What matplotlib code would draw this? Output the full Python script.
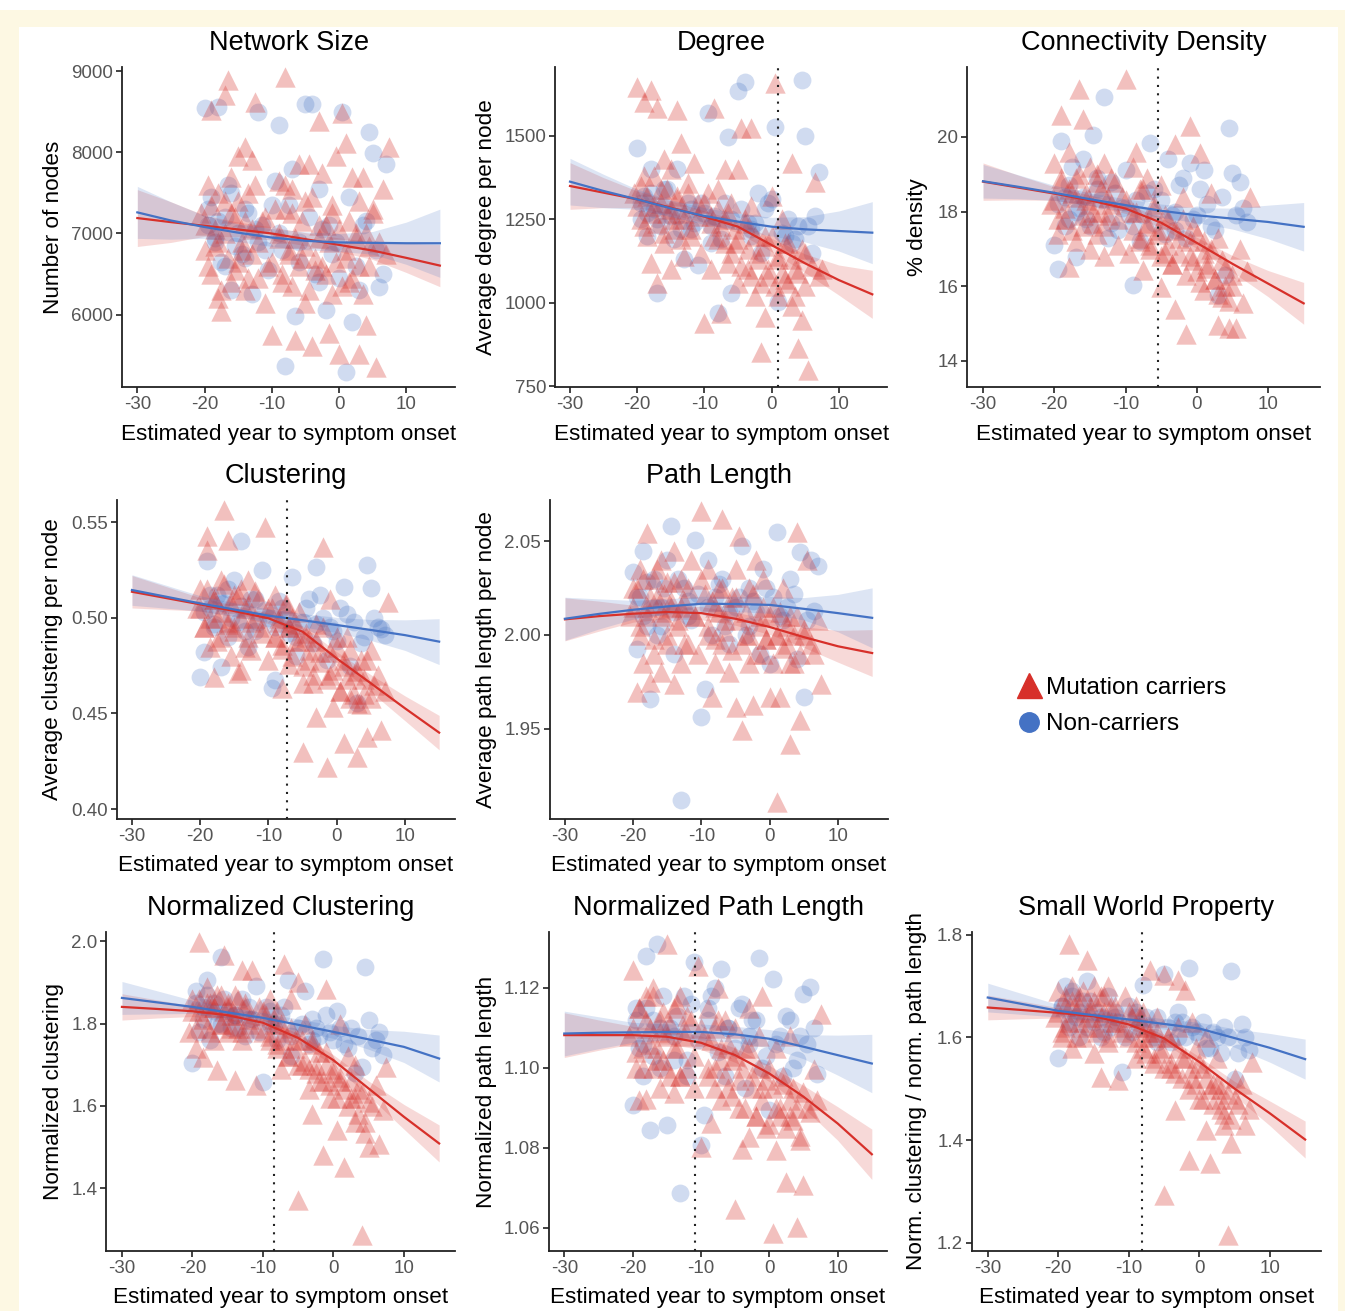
import numpy as np
import matplotlib
matplotlib.use("Agg")
import matplotlib.pyplot as plt
from matplotlib.patches import Rectangle
from matplotlib.lines import Line2D

plt.rcParams['font.family'] = ['Liberation Sans', 'DejaVu Sans']

RED = '#D7302A'
BLUE = '#4472C4'
W, H = 1345, 1311

# estimated years to symptom onset (same people in every panel)
x_car = [-20.5, -20.0, -19.5, -19.0, -19.0, -18.5, -18.0, -18.0, -17.5, -17.0,
         -17.0, -16.5, -16.0, -16.0, -15.5, -15.0, -15.0, -14.5, -14.0, -14.0,
         -13.5, -13.0, -13.0, -12.5, -12.0, -11.5, -11.0, -10.5, -10.0, -9.5,
         -9.0, -9.0, -8.5, -8.0, -8.0, -7.5, -7.0, -7.0, -6.5, -6.0,
         -5.5, -5.0, -5.0, -4.5, -4.0, -3.5, -3.0, -3.0, -2.5, -2.0,
         -1.5, -1.0, -1.0, -0.5, 0.0, 0.5, 1.0, 1.0, 1.5, 2.0,
         2.5, 3.0, 3.0, 3.5, 4.0, 4.5, 5.0, 5.5, 6.5, 7.5,
         -20.0, -19.5, -19.0, -18.5, -18.0, -17.5, -17.0, -16.5, -16.0, -15.5,
         -15.0, -14.5, -14.0, -13.5, -13.0, -12.5, -12.0, -11.0, -10.0, -9.0,
         -8.5, -8.0, -7.5, -7.0, -6.5, -6.0, -5.5, -5.0, -4.5, -4.0,
         -3.5, -3.0, -2.5, -2.0, -1.5, -1.0, -0.5, 0.0, 0.5, 1.0,
         1.5, 2.0, 2.5, 3.0, 3.5, 4.0, 4.5, 5.0, 6.0, 7.0]
x_non = [-20.0, -19.5, -19.0, -18.5, -18.0, -17.5, -17.0, -16.5, -16.0, -15.0,
         -14.5, -14.0, -13.0, -12.5, -12.0, -11.0, -10.0, -9.5, -9.0, -8.0,
         -7.0, -6.5, -6.0, -5.0, -4.0, -3.5, -3.0, -2.0, -1.5, -1.0,
         0.0, 0.5, 1.0, 2.0, 3.0, 4.0, 4.5, 5.0, 6.0, 7.0,
         -19.5, -18.5, -18.0, -17.0, -16.0, -15.5, -14.0, -13.5, -12.0, -11.5,
         -10.5, -9.0, -8.5, -7.5, -6.0, -4.5, -3.0, -2.5, -0.5, 1.5,
         2.5, 3.5, 5.5, 6.5]
fit_x = [-30, -25, -20, -15, -10, -5, 0, 5, 10, 15]

# ---- Network Size
size_car = [7250, 6800, 7600, 8520, 6500, 7050, 6900, 6200, 6050, 7400,
            8700, 8890, 6400, 7700, 7200, 6650, 7950, 6900, 8070, 6300,
            7500, 6750, 7900, 8620, 6450, 7150, 6150, 6600, 5750, 7300,
            6950, 7650, 6500, 8930, 7600, 6800, 7250, 6350, 5690, 7850,
            6700, 6150, 7400, 7850, 5620, 6550, 8380, 6950, 6600, 7100,
            5770, 6250, 7350, 7950, 5520, 8480, 8110, 6700, 6400, 7700,
            7000, 5520, 6600, 7700, 5870, 6850, 7250, 5360, 7550, 8070,
            7100, 6600, 7350, 6850, 7500, 6300, 7000, 6700, 7250, 6550,
            7400, 6800, 7150, 6450, 7050, 7600, 6900, 7200, 6650, 7000,
            6400, 7300, 6750, 7550, 6950, 6600, 7150, 6850, 6300, 7450,
            6700, 7100, 7750, 6500, 6900, 7250, 6650, 7050, 6350, 6800,
            7150, 6450, 6950, 7400, 6250, 7000, 6600, 7300, 6900, 6750]
size_non = [8540, 7100, 7450, 6900, 8560, 6650, 7200, 7600, 6300, 7000,
            6750, 7300, 6250, 7050, 8500, 6800, 7350, 7650, 8330, 5370,
            7800, 5990, 6900, 8600, 8600, 6500, 7550, 6060, 7100, 6750,
            6450, 8500, 5300, 5910, 6300, 7150, 8250, 7985, 6340, 7860,
            7300, 6950, 7150, 6600, 7500, 6850, 6700, 7250, 6900, 7100,
            6550, 7000, 6800, 7350, 6650, 7200, 6400, 7050, 6900, 7450,
            6600, 7100, 6800, 6500]
size_red = [7190, 7140, 7095, 7050, 7000, 6930, 6860, 6790, 6700, 6605]
size_red_ci = [350, 250, 130, 90, 80, 80, 85, 110, 180, 260]
size_blue = [7260, 7160, 7080, 7010, 6950, 6910, 6890, 6885, 6880, 6880]
size_blue_ci = [320, 230, 140, 110, 110, 110, 110, 140, 260, 420]

# ---- Degree
deg_car = [1330, 1646, 1250, 1603, 1380, 1200, 1638, 1120, 1290, 1583,
           1060, 1340, 1430, 1180, 1270, 1400, 1100, 1220, 1578, 1320,
           1480, 1250, 1140, 1360, 1200, 1420, 1300, 1150, 938, 1330,
           1260, 1100, 1583, 1340, 1190, 968, 1250, 1400, 1120, 1300,
           1180, 1060, 1400, 1523, 1240, 1100, 1523, 1290, 1020, 1150,
           853, 958, 1200, 1080, 1320, 1660, 1130, 1020, 1250, 1070,
           1180, 1420, 990, 1100, 863, 948, 1150, 798, 1363, 1100,
           1290, 1350, 1230, 1320, 1270, 1380, 1240, 1300, 1210, 1340,
           1280, 1250, 1310, 1190, 1270, 1330, 1220, 1260, 1300, 1240,
           1200, 1280, 1230, 1180, 1270, 1150, 1220, 1190, 1110, 1250,
           1160, 1080, 1200, 1130, 1060, 1170, 1100, 1200, 1050, 1140,
           1090, 1180, 1060, 1130, 1020, 1090, 1160, 1050, 1110, 1080]
deg_non = [1463, 1250, 1320, 1200, 1400, 1280, 1030, 1230, 1340, 1260,
           1190, 1400, 1130, 1300, 1220, 1113, 1270, 1568, 1180, 968,
           1300, 1496, 1028, 1636, 1663, 1240, 1200, 1330, 1150, 1280,
           1310, 1528, 1003, 1200, 1180, 1230, 1668, 1500, 1148, 1393,
           1300, 1270, 1330, 1250, 1290, 1340, 1260, 1220, 1280, 1240,
           1300, 1230, 1260, 1190, 1250, 1280, 1220, 1240, 1300, 1210,
           1250, 1190, 1230, 1260]
deg_red = [1350, 1330, 1310, 1285, 1258, 1228, 1173, 1118, 1068, 1025]
deg_red_ci = [70, 45, 25, 20, 18, 18, 20, 28, 45, 72]
deg_blue = [1363, 1335, 1310, 1283, 1260, 1243, 1228, 1220, 1215, 1210]
deg_blue_ci = [70, 50, 30, 25, 25, 25, 28, 38, 60, 93]

# ---- Connectivity Density
dens_car = [18.2, 19.3, 17.4, 20.58, 18.8, 17.8, 16.52, 19.6, 18.5, 17.2,
            18.9, 21.29, 17.6, 20.49, 18.3, 19.2, 17.0, 18.0, 19.0, 17.4,
            18.6, 16.8, 19.3, 17.9, 18.2, 18.8, 17.1, 18.4, 21.56, 16.9,
            18.0, 19.2, 19.6, 17.3, 18.6, 16.43, 17.6, 18.9, 17.1, 18.2,
            17.5, 15.98, 18.7, 16.9, 17.8, 16.6, 15.4, 19.8, 17.3, 18.4,
            14.73, 20.3, 16.8, 17.6, 16.4, 19.57, 17.2, 15.9, 16.6, 18.5,
            16.2, 14.96, 17.3, 15.7, 16.5, 14.87, 16.0, 14.87, 15.54, 18.39,
            18.3, 17.8, 18.9, 18.1, 18.6, 17.5, 18.4, 19.0, 17.9, 18.5,
            18.2, 17.7, 18.8, 18.0, 17.6, 18.4, 18.9, 17.8, 18.3, 17.5,
            18.0, 17.2, 18.6, 17.7, 17.0, 18.1, 17.4, 16.8, 17.9, 17.1,
            16.6, 17.5, 16.9, 17.8, 16.3, 17.2, 16.7, 17.4, 16.1, 16.9,
            16.5, 17.0, 16.2, 15.8, 16.7, 16.0, 15.6, 16.3, 17.0, 16.4]
dens_non = [17.1, 16.47, 19.9, 18.4, 17.8, 19.2, 16.79, 18.1, 19.4, 17.6,
            20.04, 18.6, 21.07, 17.3, 18.8, 17.5, 19.1, 17.9, 16.03, 17.2,
            18.5, 19.84, 17.7, 18.3, 19.4, 17.9, 17.5, 18.9, 17.3, 19.3,
            17.9, 18.6, 19.1, 17.6, 15.76, 16.3, 20.24, 19.02, 18.8, 17.72,
            18.2, 17.6, 18.7, 18.0, 18.4, 17.8, 18.9, 18.3, 17.7, 18.5,
            18.1, 17.6, 18.3, 17.9, 18.6, 17.4, 18.0, 18.7, 17.8, 18.2,
            17.5, 18.4, 17.9, 18.1]
dens_red = [18.80, 18.64, 18.48, 18.30, 18.08, 17.70, 17.16, 16.60, 16.07, 15.54]
dens_red_ci = [0.50, 0.33, 0.18, 0.14, 0.13, 0.13, 0.15, 0.22, 0.35, 0.56]
dens_blue = [18.81, 18.66, 18.50, 18.33, 18.17, 18.02, 17.90, 17.81, 17.72, 17.59]
dens_blue_ci = [0.45, 0.32, 0.20, 0.17, 0.17, 0.18, 0.20, 0.28, 0.45, 0.65]

# ---- Clustering
clus_car = [0.505, 0.515, 0.495, 0.5428, 0.5355, 0.485, 0.4692, 0.510, 0.500, 0.490,
            0.520, 0.5565, 0.5408, 0.498, 0.480, 0.512, 0.495, 0.471, 0.4727, 0.515,
            0.505, 0.490, 0.520, 0.483, 0.500, 0.510, 0.492, 0.5474, 0.478, 0.505,
            0.512, 0.490, 0.498, 0.4631, 0.484, 0.507, 0.495, 0.476, 0.500, 0.488,
            0.503, 0.4658, 0.430, 0.490, 0.478, 0.4658, 0.4483, 0.497, 0.482, 0.5373,
            0.4221, 0.470, 0.510, 0.4535, 0.485, 0.462, 0.475, 0.4344, 0.490, 0.458,
            0.470, 0.4553, 0.4274, 0.478, 0.460, 0.4378, 0.483, 0.465, 0.4413, 0.5085,
            0.505, 0.495, 0.515, 0.500, 0.510, 0.488, 0.503, 0.518, 0.497, 0.508,
            0.493, 0.512, 0.500, 0.485, 0.506, 0.498, 0.514, 0.495, 0.505, 0.490,
            0.500, 0.486, 0.508, 0.495, 0.480, 0.497, 0.488, 0.475, 0.492, 0.483,
            0.470, 0.488, 0.477, 0.495, 0.468, 0.482, 0.473, 0.490, 0.462, 0.478,
            0.468, 0.483, 0.460, 0.472, 0.455, 0.468, 0.478, 0.458, 0.470, 0.462]
clus_non = [0.4692, 0.4823, 0.530, 0.505, 0.495, 0.512, 0.4745, 0.508, 0.490, 0.520,
            0.498, 0.5404, 0.485, 0.510, 0.493, 0.5251, 0.500, 0.4631, 0.4675, 0.505,
            0.492, 0.5216, 0.480, 0.498, 0.510, 0.487, 0.5268, 0.500, 0.478, 0.495,
            0.488, 0.505, 0.5163, 0.475, 0.4553, 0.490, 0.5277, 0.5155, 0.4954, 0.491,
            0.503, 0.512, 0.497, 0.508, 0.515, 0.500, 0.506, 0.493, 0.510, 0.498,
            0.504, 0.495, 0.509, 0.500, 0.490, 0.505, 0.497, 0.512, 0.493, 0.502,
            0.498, 0.487, 0.500, 0.494]
clus_red = [0.5137, 0.5104, 0.5071, 0.5036, 0.4998, 0.4928, 0.4788, 0.4658, 0.4527, 0.4400]
clus_red_ci = [0.0085, 0.006, 0.0035, 0.003, 0.0028, 0.003, 0.0035, 0.0045, 0.0065, 0.009]
clus_blue = [0.5146, 0.5111, 0.5076, 0.5044, 0.5012, 0.4988, 0.4963, 0.4937, 0.4910, 0.4876]
clus_blue_ci = [0.008, 0.006, 0.004, 0.0035, 0.0035, 0.0035, 0.004, 0.0055, 0.008, 0.012]

# ---- Path Length
path_car = [2.010, 2.025, 1.9695, 2.000, 2.035, 1.985, 2.0543, 2.015, 1.975, 2.030,
            1.990, 2.020, 2.040, 1.980, 2.010, 2.028, 1.995, 2.015, 1.974, 2.045,
            2.005, 1.985, 2.030, 2.018, 1.995, 2.040, 2.010, 1.990, 2.0663, 2.022,
            2.035, 2.000, 1.9669, 2.015, 1.985, 2.025, 2.0619, 1.995, 2.008, 1.980,
            2.020, 1.9616, 2.035, 2.053, 1.9491, 2.000, 2.025, 1.985, 1.9624, 2.040,
            2.010, 1.990, 2.030, 1.998, 1.9669, 2.015, 1.9109, 2.000, 1.9669, 2.025,
            1.995, 1.942, 2.010, 1.985, 2.0548, 1.9544, 2.000, 2.040, 1.990, 1.974,
            2.015, 2.025, 2.005, 2.030, 2.010, 2.020, 1.998, 2.035, 2.012, 2.022,
            2.000, 2.018, 2.028, 2.008, 2.015, 1.995, 2.025, 2.010, 2.030, 2.005,
            2.018, 1.998, 2.012, 2.025, 2.002, 2.015, 1.992, 2.020, 2.008, 1.995,
            2.012, 2.000, 2.022, 1.990, 2.005, 2.015, 1.998, 2.010, 1.985, 2.000,
            2.012, 1.993, 2.005, 1.985, 2.000, 2.010, 1.990, 2.003, 1.995, 2.008]
path_non = [2.0335, 1.9926, 2.020, 2.045, 2.005, 1.966, 2.030, 2.000, 2.015, 2.040,
            2.0583, 1.990, 1.9118, 2.025, 2.010, 2.0504, 1.9562, 1.9713, 2.040, 2.020,
            2.030, 2.005, 1.995, 2.015, 2.0477, 2.000, 2.025, 2.012, 1.990, 2.035,
            1.9846, 2.020, 2.0548, 2.008, 2.030, 1.9873, 2.0441, 1.9669, 2.040, 2.037,
            2.020, 2.010, 2.028, 2.015, 2.005, 2.025, 2.012, 2.030, 2.018, 2.008,
            2.022, 2.015, 2.000, 2.027, 2.012, 2.020, 2.005, 2.018, 2.025, 2.010,
            2.015, 2.022, 2.008, 2.013]
path_red = [2.0083, 2.0100, 2.0113, 2.0122, 2.0116, 2.0086, 2.0042, 1.9988, 1.9939, 1.9903]
path_red_ci = [0.0115, 0.008, 0.0045, 0.0035, 0.0035, 0.0035, 0.004, 0.0055, 0.0085, 0.0125]
path_blue = [2.0086, 2.0112, 2.0134, 2.0152, 2.0166, 2.0165, 2.0160, 2.0139, 2.0116, 2.0091]
path_blue_ci = [0.0115, 0.008, 0.005, 0.004, 0.004, 0.004, 0.0045, 0.006, 0.010, 0.016]

# ---- Normalized Clustering
nclus_car = [1.780, 1.860, 1.740, 1.998, 1.830, 1.719, 1.890, 1.790, 1.850, 1.760,
             1.840, 1.687, 1.800, 1.870, 1.966, 1.780, 1.840, 1.820, 1.662, 1.870,
             1.790, 1.930, 1.760, 1.850, 1.800, 1.930, 1.650, 1.840, 1.780, 1.820,
             1.860, 1.760, 1.800, 1.740, 1.830, 1.690, 1.946, 1.780, 1.720, 1.860,
             1.760, 1.371, 1.900, 1.700, 1.800, 1.640, 1.581, 1.760, 1.700, 1.660,
             1.480, 1.885, 1.730, 1.620, 1.680, 1.541, 1.800, 1.660, 1.452, 1.720,
             1.620, 1.700, 1.560, 1.640, 1.286, 1.533, 1.500, 1.600, 1.508, 1.695,
             1.830, 1.790, 1.860, 1.810, 1.850, 1.780, 1.840, 1.870, 1.800, 1.830,
             1.850, 1.790, 1.820, 1.860, 1.780, 1.840, 1.810, 1.790, 1.830, 1.770,
             1.810, 1.750, 1.800, 1.760, 1.720, 1.790, 1.740, 1.700, 1.760, 1.710,
             1.690, 1.750, 1.680, 1.730, 1.660, 1.700, 1.650, 1.690, 1.620, 1.670,
             1.640, 1.600, 1.660, 1.620, 1.580, 1.630, 1.560, 1.610, 1.650, 1.590]
nclus_non = [1.703, 1.880, 1.780, 1.840, 1.905, 1.760, 1.850, 1.800, 1.962, 1.830,
             1.790, 1.820, 1.860, 1.770, 1.810, 1.891, 1.658, 1.840, 1.800, 1.760,
             1.840, 1.905, 1.720, 1.790, 1.880, 1.750, 1.810, 1.770, 1.958, 1.820,
             1.760, 1.830, 1.790, 1.740, 1.680, 1.695, 1.938, 1.808, 1.760, 1.723,
             1.850, 1.810, 1.870, 1.830, 1.800, 1.860, 1.820, 1.790, 1.840, 1.810,
             1.780, 1.830, 1.800, 1.820, 1.770, 1.800, 1.760, 1.790, 1.780, 1.750,
             1.790, 1.770, 1.740, 1.780]
nclus_red = [1.8405, 1.8355, 1.8300, 1.8202, 1.8020, 1.7650, 1.7110, 1.6421, 1.5733, 1.5085]
nclus_red_ci = [0.032, 0.022, 0.013, 0.010, 0.010, 0.011, 0.013, 0.018, 0.030, 0.045]
nclus_blue = [1.8623, 1.8515, 1.8405, 1.8270, 1.8138, 1.7970, 1.7798, 1.7615, 1.7433, 1.7150]
nclus_blue_ci = [0.040, 0.028, 0.016, 0.013, 0.013, 0.014, 0.016, 0.024, 0.038, 0.057]

# ---- Normalized Path Length
npath_car = [1.108, 1.1244, 1.100, 1.115, 1.092, 1.105, 1.0923, 1.118, 1.110, 1.100,
             1.120, 1.105, 1.095, 1.112, 1.102, 1.1311, 1.108, 1.098, 1.0936, 1.115,
             1.105, 1.118, 1.098, 1.110, 1.100, 1.112, 1.095, 1.1254, 1.0802, 1.108,
             1.115, 1.098, 1.0861, 1.110, 1.100, 1.120, 1.092, 1.105, 1.112, 1.095,
             1.102, 1.0648, 1.110, 1.090, 1.0798, 1.105, 1.0828, 1.115, 1.098, 1.088,
             1.108, 1.095, 1.118, 1.085, 1.100, 1.0586, 1.0794, 1.105, 1.090, 1.098,
             1.0715, 1.088, 1.108, 1.095, 1.0602, 1.0819, 1.0707, 1.090, 1.0998, 1.1136,
             1.110, 1.104, 1.115, 1.100, 1.112, 1.106, 1.118, 1.102, 1.109, 1.114,
             1.100, 1.111, 1.105, 1.116, 1.098, 1.108, 1.113, 1.103, 1.110, 1.100,
             1.107, 1.095, 1.112, 1.102, 1.098, 1.106, 1.093, 1.103, 1.097, 1.100,
             1.090, 1.105, 1.095, 1.088, 1.100, 1.092, 1.097, 1.086, 1.095, 1.090,
             1.088, 1.096, 1.085, 1.092, 1.087, 1.090, 1.083, 1.094, 1.089, 1.092]
npath_non = [1.0907, 1.115, 1.105, 1.098, 1.1279, 1.0844, 1.112, 1.1311, 1.100, 1.0857,
             1.110, 1.102, 1.0686, 1.118, 1.098, 1.1265, 1.0807, 1.0882, 1.115, 1.120,
             1.1248, 1.098, 1.110, 1.105, 1.116, 1.095, 1.108, 1.112, 1.1276, 1.100,
             1.0894, 1.1223, 1.106, 1.098, 1.112, 1.102, 1.108, 1.1186, 1.1203, 1.0986,
             1.112, 1.106, 1.115, 1.103, 1.110, 1.118, 1.108, 1.113, 1.102, 1.116,
             1.107, 1.112, 1.118, 1.104, 1.110, 1.115, 1.106, 1.112, 1.103, 1.108,
             1.113, 1.100, 1.106, 1.110]
npath_red = [1.1082, 1.1082, 1.1082, 1.1078, 1.1063, 1.1032, 1.0986, 1.0928, 1.0861, 1.0784]
npath_red_ci = [0.0056, 0.0038, 0.0022, 0.0018, 0.0017, 0.0018, 0.002, 0.0028, 0.0042, 0.0063]
npath_blue = [1.1086, 1.1088, 1.1089, 1.1090, 1.1090, 1.1084, 1.1073, 1.1053, 1.1032, 1.1011]
npath_blue_ci = [0.0056, 0.004, 0.0025, 0.002, 0.002, 0.002, 0.0023, 0.003, 0.005, 0.0073]

# ---- Small World Property
sw_car = [1.640, 1.690, 1.600, 1.660, 1.620, 1.7825, 1.700, 1.580, 1.650, 1.630,
          1.680, 1.600, 1.750, 1.640, 1.660, 1.700, 1.570, 1.620, 1.5231, 1.680,
          1.650, 1.700, 1.590, 1.630, 1.660, 1.5166, 1.620, 1.680, 1.600, 1.640,
          1.660, 1.560, 1.620, 1.600, 1.650, 1.570, 1.7306, 1.610, 1.550, 1.640,
          1.580, 1.2929, 1.7209, 1.600, 1.540, 1.4582, 1.7112, 1.620, 1.560, 1.6917,
          1.361, 1.520, 1.630, 1.580, 1.480, 1.540, 1.4193, 1.600, 1.3545, 1.510,
          1.560, 1.460, 1.500, 1.430, 1.215, 1.3934, 1.520, 1.470, 1.429, 1.5523,
          1.650, 1.610, 1.680, 1.630, 1.670, 1.600, 1.660, 1.690, 1.620, 1.650,
          1.670, 1.610, 1.640, 1.680, 1.600, 1.660, 1.630, 1.610, 1.650, 1.590,
          1.640, 1.580, 1.620, 1.600, 1.560, 1.610, 1.570, 1.540, 1.600, 1.550,
          1.530, 1.580, 1.520, 1.560, 1.500, 1.540, 1.510, 1.550, 1.480, 1.520,
          1.500, 1.470, 1.510, 1.480, 1.450, 1.490, 1.440, 1.480, 1.510, 1.460]
sw_non = [1.5588, 1.660, 1.700, 1.620, 1.680, 1.640, 1.600, 1.670, 1.710, 1.630,
          1.650, 1.600, 1.680, 1.620, 1.640, 1.5328, 1.660, 1.610, 1.640, 1.7014,
          1.620, 1.600, 1.640, 1.7228, 1.590, 1.630, 1.650, 1.600, 1.7358, 1.620,
          1.600, 1.630, 1.580, 1.610, 1.570, 1.600, 1.7293, 1.5198, 1.6256, 1.575,
          1.660, 1.630, 1.690, 1.650, 1.620, 1.670, 1.640, 1.610, 1.650, 1.630,
          1.600, 1.650, 1.620, 1.640, 1.590, 1.620, 1.600, 1.630, 1.610, 1.580,
          1.600, 1.620, 1.570, 1.600]
sw_red = [1.6580, 1.6530, 1.6476, 1.6411, 1.6250, 1.5980, 1.5520, 1.5000, 1.4520, 1.4010]
sw_red_ci = [0.024, 0.017, 0.010, 0.008, 0.008, 0.008, 0.010, 0.014, 0.024, 0.036]
sw_blue = [1.6774, 1.6645, 1.6515, 1.6430, 1.6346, 1.6260, 1.6171, 1.5985, 1.5795, 1.5575]
sw_blue_ci = [0.028, 0.020, 0.012, 0.010, 0.010, 0.010, 0.012, 0.018, 0.028, 0.039]

xtick_vals = [-30, -20, -10, 0, 10]
xtick_text = ['-30', '-20', '-10', '0', '10']

# panel boxes in pixels: left, right, top, bottom
panels = [
    dict(box=(122.2, 455, 67, 387), title='Network Size', ylab='Number of nodes', ylpad=69,
         car=size_car, non=size_non, red=size_red, red_ci=size_red_ci, blue=size_blue, blue_ci=size_blue_ci,
         yt=[6000, 7000, 8000, 9000], ytl=['6000', '7000', '8000', '9000'], ylim=(5110, 9050), vline=None),
    dict(box=(554.9, 887.4, 67, 387), title='Degree', ylab='Average degree per node', ylpad=68,
         car=deg_car, non=deg_non, red=deg_red, red_ci=deg_red_ci, blue=deg_blue, blue_ci=deg_blue_ci,
         yt=[750, 1000, 1250, 1500], ytl=['750', '1000', '1250', '1500'], ylim=(747, 1707), vline=1.0),
    dict(box=(967, 1319.7, 67, 387), title='Connectivity Density', ylab='% density', ylpad=49,
         car=dens_car, non=dens_non, red=dens_red, red_ci=dens_red_ci, blue=dens_blue, blue_ci=dens_blue_ci,
         yt=[14, 16, 18, 20], ytl=['14', '16', '18', '20'], ylim=(13.3, 21.87), vline=-5.5),
    dict(box=(116.6, 454.5, 500, 819), title='Clustering', ylab='Average clustering per node', ylpad=64,
         car=clus_car, non=clus_non, red=clus_red, red_ci=clus_red_ci, blue=clus_blue, blue_ci=clus_blue_ci,
         yt=[0.40, 0.45, 0.50, 0.55], ytl=['0.40', '0.45', '0.50', '0.55'], ylim=(0.3948, 0.5617), vline=-7.3),
    dict(box=(549.6, 887.5, 500, 819), title='Path Length', ylab='Average path length per node', ylpad=63,
         car=path_car, non=path_non, red=path_red, red_ci=path_red_ci, blue=path_blue, blue_ci=path_blue_ci,
         yt=[1.95, 2.00, 2.05], ytl=['1.95', '2.00', '2.05'], ylim=(1.9017, 2.072), vline=None),
    dict(box=(106.1, 455, 932, 1251), title='Normalized Clustering', ylab='Normalized clustering', ylpad=53,
         car=nclus_car, non=nclus_non, red=nclus_red, red_ci=nclus_red_ci, blue=nclus_blue, blue_ci=nclus_blue_ci,
         yt=[1.4, 1.6, 1.8, 2.0], ytl=['1.4', '1.6', '1.8', '2.0'], ylim=(1.247, 2.0226), vline=-8.4),
    dict(box=(548.9, 887.2, 932, 1251), title='Normalized Path Length', ylab='Normalized path length', ylpad=62,
         car=npath_car, non=npath_non, red=npath_red, red_ci=npath_red_ci, blue=npath_blue, blue_ci=npath_blue_ci,
         yt=[1.06, 1.08, 1.10, 1.12], ytl=['1.06', '1.08', '1.10', '1.12'], ylim=(1.0542, 1.134), vline=-10.9),
    dict(box=(971.9, 1321, 932, 1251), title='Small World Property', ylab='Norm. clustering / norm. path length', ylpad=55,
         car=sw_car, non=sw_non, red=sw_red, red_ci=sw_red_ci, blue=sw_blue, blue_ci=sw_blue_ci,
         yt=[1.2, 1.4, 1.6, 1.8], ytl=['1.2', '1.4', '1.6', '1.8'], ylim=(1.184, 1.805), vline=-8.1),
]

fig = plt.figure(figsize=(W / 100, H / 100), dpi=100)
fig.patch.set_facecolor('white')
# journal frame
fig.patches.append(Rectangle((0, 0), 1, 1 - 10 / H, transform=fig.transFigure,
                             facecolor='#FDF8E3', edgecolor='none', zorder=-10))
fig.patches.append(Rectangle((19 / W, 0), (1338 - 19) / W, 1 - 27 / H, transform=fig.transFigure,
                             facecolor='white', edgecolor='none', zorder=-9))

fx = np.array(fit_x)
for p in panels:
    l, r, t, b = p['box']
    ax = fig.add_axes([l / W, 1 - b / H, (r - l) / W, (b - t) / H])
    ax.patch.set_alpha(0)
    ax.scatter(x_non, p['non'], marker='o', s=165, color=BLUE, alpha=0.25, linewidths=0, zorder=2)
    ax.scatter(x_car, p['car'], marker='^', s=215, color=RED, alpha=0.30, linewidths=0, zorder=2)
    red, rci = np.array(p['red']), np.array(p['red_ci'])
    blue, bci = np.array(p['blue']), np.array(p['blue_ci'])
    ax.fill_between(fx, red - rci, red + rci, color=RED, alpha=0.18, linewidth=0, zorder=3)
    ax.fill_between(fx, blue - bci, blue + bci, color=BLUE, alpha=0.18, linewidth=0, zorder=3)
    ax.plot(fx, red, color=RED, lw=1.6, zorder=4)
    ax.plot(fx, blue, color=BLUE, lw=1.6, zorder=4)
    if p['vline'] is not None:
        ax.axvline(p['vline'], color='#222222', lw=1.5, ls=(0, (1, 3)), zorder=5)

    ax.set_xlim(-32.25, 17.25)
    ax.set_ylim(*p['ylim'])
    ax.set_xticks(xtick_vals)
    ax.set_xticklabels(xtick_text)
    ax.set_yticks(p['yt'])
    ax.set_yticklabels(p['ytl'])
    for s in ['top', 'right']:
        ax.spines[s].set_visible(False)
    for s in ['left', 'bottom']:
        ax.spines[s].set_linewidth(1.3)
        ax.spines[s].set_color('#222222')
    ax.tick_params(length=4.3, width=1.2, color='#222222', labelsize=13.5,
                   labelcolor='#555555', pad=2.0)

    ax.set_title(p['title'], fontsize=19.5, pad=12.5)
    ax.set_xlabel('Estimated year to symptom onset', fontsize=16.2)
    ax.xaxis.label.set_va('center')
    ax.xaxis.set_label_coords(0.5, -47 / (b - t))
    ax.set_ylabel(p['ylab'], fontsize=16.2)
    ax.yaxis.label.set_va('center')
    ax.yaxis.set_label_coords(-p['ylpad'] / (r - l), 0.5)

handles = [Line2D([], [], marker='^', ls='', color=RED, ms=18),
           Line2D([], [], marker='o', ls='', color=BLUE, ms=14)]
fig.legend(handles, ['Mutation carriers', 'Non-carriers'], loc='center left',
           bbox_to_anchor=(991 / W, 1 - 706 / H), frameon=False, fontsize=17.5,
           handletextpad=0.05, labelspacing=0.6, handlelength=1.3)

fig.savefig('out.png', dpi=100)
